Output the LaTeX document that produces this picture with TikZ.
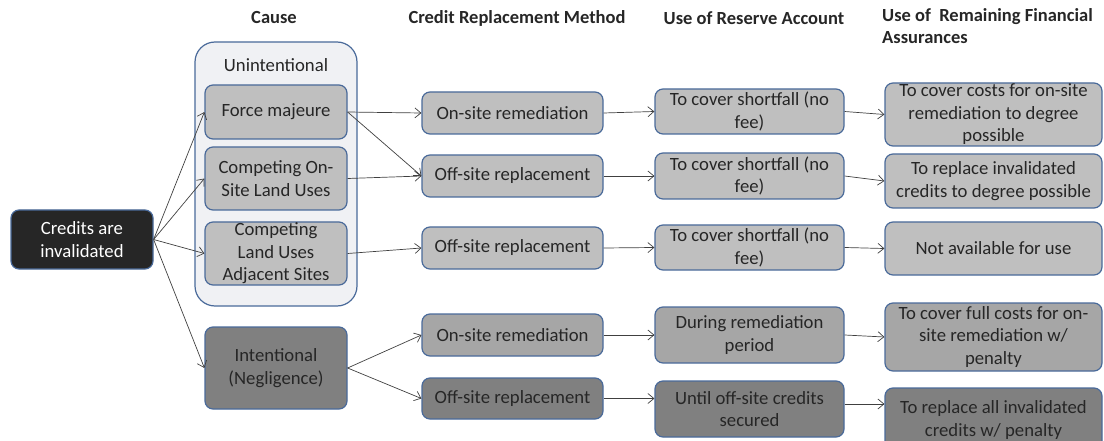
\documentclass[tikz,border=0pt]{standalone}
\usepackage{fontspec}
\setmainfont{Carlito}
\usetikzlibrary{arrows.meta}
\definecolor{bordc}{HTML}{4A6A9A}
\definecolor{lgray}{HTML}{BFBFBF}
\definecolor{mgray}{HTML}{A6A6A6}
\definecolor{dgray}{HTML}{808080}
\definecolor{blk}{HTML}{262626}
\definecolor{contfill}{HTML}{F0F1F4}
\definecolor{linec}{HTML}{404040}
\tikzset{
  box/.style={draw=bordc, line width=1.2pt, rounded corners=8pt, fill=lgray, align=center,
    inner sep=0pt, font=\fontsize{18.7}{22.5}\selectfont, text=blk},
  midbox/.style={box, fill=mgray},
  darkbox/.style={box, fill=dgray},
  hdr/.style={font=\fontsize{18.5}{22.5}\selectfont\bfseries, text=blk, inner sep=0pt},
  conn/.style={draw=linec, line width=0.7pt, -{Straight Barb[length=6pt,width=10pt]}},
}
\begin{document}
\begin{tikzpicture}[x=1pt,y=-1pt]
\useasboundingbox (0,0) rectangle (1104,441);
% headers
\node[hdr] (hcause) at (274,18) {Cause};
\node[hdr] (hcrm) at (517,18) {Credit Replacement Method};
\node[hdr] (hura) at (754,18) {Use of Reserve Account};
\node[hdr, anchor=north west, align=left] (hurfa) at (882,8) {Use of\ \ Remaining Financial\\Assurances};
% container
\node[draw=bordc, line width=1.2pt, rounded corners=20pt, fill=contfill, minimum width=162pt, minimum height=264pt] (cont) at (276,174) {};
\node[font=\fontsize{18.7}{22.5}\selectfont, text=blk, inner sep=0pt] (unint) at (276,65) {Unintentional};
% cause column
\node[box, fill=blk, text=white, minimum width=142pt, minimum height=59pt] (cred) at (82,239.5) {Credits are\\invalidated};
\node[box, minimum width=142pt, minimum height=54pt] (fm) at (276,112) {Force majeure};
\node[box, minimum width=142pt, minimum height=63pt] (cos) at (276,178.5) {Competing On-\\Site Land Uses};
\node[box, minimum width=142pt, minimum height=63pt] (cla) at (276,253.5) {Competing\\Land Uses\\Adjacent Sites};
\node[darkbox, minimum width=142pt, minimum height=82pt] (int) at (276,368) {Intentional\\(Negligence)};
% replacement column
\node[box, minimum width=181pt, minimum height=42pt] (onr1) at (512.5,113) {On-site remediation};
\node[box, minimum width=181pt, minimum height=42pt] (ofr1) at (512.5,176) {Off-site replacement};
\node[box, minimum width=181pt, minimum height=42pt] (ofr2) at (512.5,248) {Off-site replacement};
\node[midbox, minimum width=181pt, minimum height=42pt] (onr2) at (512.5,335) {On-site remediation};
\node[darkbox, minimum width=181pt, minimum height=41pt] (ofr3) at (512.5,398.5) {Off-site replacement};
% reserve column
\node[box, minimum width=189pt, minimum height=45pt] (r1) at (749.5,111.5) {To cover shortfall (no\\fee)};
\node[box, minimum width=189pt, minimum height=46pt] (r2) at (749.5,176) {To cover shortfall (no\\fee)};
\node[box, minimum width=189pt, minimum height=45pt] (r3) at (749.5,247.5) {To cover shortfall (no\\fee)};
\node[midbox, minimum width=189pt, minimum height=56pt] (r4) at (749.5,335) {During remediation\\period};
\node[darkbox, minimum width=189pt, minimum height=56pt] (r5) at (749.5,409) {Until off-site credits\\secured};
% financial assurances column
\node[box, minimum width=217pt, minimum height=63pt] (f1) at (993.5,114.5) {To cover costs for on-site\\remediation to degree\\possible};
\node[box, minimum width=217pt, minimum height=54pt] (f2) at (993.5,181) {To replace invalidated\\credits to degree possible};
\node[box, minimum width=217pt, minimum height=53pt] (f3) at (993.5,248.5) {Not available for use};
\node[midbox, minimum width=217pt, minimum height=68pt] (f4) at (993.5,337) {To cover full costs for on-\\site remediation w/\\penalty};
\node[darkbox, minimum width=217pt, minimum height=64pt] (f5) at (993.5,420) {To replace all invalidated\\credits w/ penalty};
\coordinate (r5o) at ([yshift=5pt]r5.east);
% connectors
\draw[conn] (cred.east) -- (fm.west);
\draw[conn] (cred.east) -- (cos.west);
\draw[conn] (cred.east) -- (cla.west);
\draw[conn] (cred.east) -- (int.west);
\draw[conn] (fm.east) -- (onr1.west);
\draw[conn] (fm.east) -- (ofr1.west);
\draw[conn] (cos.east) -- (ofr1.west);
\draw[conn] (cla.east) -- (ofr2.west);
\draw[conn] (int.east) -- (onr2.west);
\draw[conn] (int.east) -- (ofr3.west);
\draw[conn] (onr1.east) -- (r1.west);
\draw[conn] (ofr1.east) -- (r2.west);
\draw[conn] (ofr2.east) -- (r3.west);
\draw[conn] (onr2.east) -- (r4.west);
\draw[conn] (ofr3.east) -- (r5.west |- ofr3.east);
\draw[conn] (r1.east) -- (f1.west);
\draw[conn] (r2.east) -- (f2.west);
\draw[conn] (r3.east) -- (f3.west);
\draw[conn] (r4.east) -- (f4.west);
\draw[conn] (r5o) -- (f5.west |- r5o);
\end{tikzpicture}
\end{document}
